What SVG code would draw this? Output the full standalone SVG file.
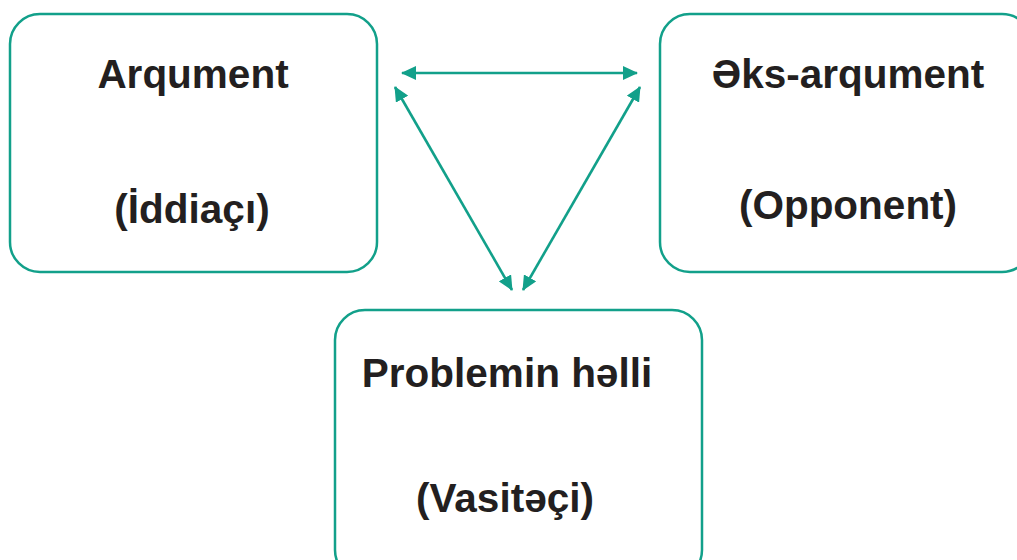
<svg xmlns="http://www.w3.org/2000/svg" width="1017" height="560" viewBox="0 0 1017 560">
  <style>
    .box { fill: #ffffff; stroke: #12a08a; stroke-width: 2.5; }
    .label { font-family: "Liberation Sans", Arial, sans-serif; font-weight: bold; font-size: 40.5px; fill: #231f20; text-anchor: middle; }
    .link { stroke: #12a08a; stroke-width: 2.6; fill: none; marker-start: url(#head); marker-end: url(#head); }
  </style>
  <defs>
    <marker id="head" viewBox="0 0 15 14" refX="14" refY="7" markerWidth="15" markerHeight="14" markerUnits="userSpaceOnUse" orient="auto-start-reverse">
      <path d="M0,0 L15,7 L0,14 Z" fill="#12a08a"/>
    </marker>
  </defs>
  <rect width="1017" height="560" fill="#ffffff"/>

  <g id="node-arqument">
    <rect class="box" x="10" y="14" width="367" height="258" rx="30" ry="30"/>
    <text class="label" x="193" y="88">Arqument</text>
    <text class="label" x="192" y="223">(İddiaçı)</text>
  </g>

  <g id="node-eks-arqument">
    <rect class="box" x="660" y="14" width="372" height="258" rx="30" ry="30"/>
    <text class="label" x="848" y="88">Əks-arqument</text>
    <text class="label" x="848" y="219">(Opponent)</text>
  </g>

  <g id="node-problemin-helli">
    <rect class="box" x="335" y="310" width="367" height="270" rx="30" ry="30"/>
    <text class="label" x="507" y="387">Problemin həlli</text>
    <text class="label" x="505" y="512">(Vasitəçi)</text>
  </g>

  <g id="connectors">
    <line class="link" x1="402" y1="73" x2="637" y2="73"/>
    <line class="link" x1="395" y1="87" x2="512" y2="290"/>
    <line class="link" x1="640" y1="87" x2="523" y2="290"/>
  </g>
</svg>
